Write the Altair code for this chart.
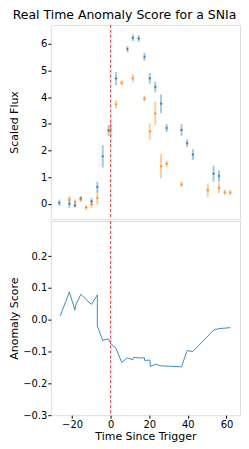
import altair as alt
import pandas as pd

blue_t = [-26.6, -21.4, -18.5, -15.5, -9.9, -6.9, -4.1, -1.1, 2.8, 8.7, 11.5, 14.5, 17.5, 20.3, 23.1, 26.1, 29.0, 36.7, 39.6, 42.6, 53.3, 56.1]
blue_v = [0.04, 0.0, -0.06, 0.2, 0.1, 0.63, 1.78, 2.75, 4.7, 5.8, 6.22, 6.2, 5.51, 4.71, 4.38, 3.75, 2.84, 2.77, 2.27, 1.85, 1.13, 1.04]
blue_e = [0.12, 0.15, 0.08, 0.08, 0.12, 0.2, 0.42, 0.2, 0.25, 0.12, 0.12, 0.12, 0.15, 0.2, 0.2, 0.35, 0.15, 0.22, 0.15, 0.2, 0.3, 0.22]

orange_t = [-21.4, -18.4, -15.5, -12.7, -9.9, -6.9, 0.0, 2.8, 5.7, 11.5, 17.5, 20.3, 23.1, 26.1, 29.0, 36.7, 50.3, 56.1, 59.1, 62.0]
orange_v = [0.17, 0.07, 0.17, -0.14, -0.03, 0.22, 2.8, 3.73, 4.54, 4.71, 3.94, 2.71, 3.39, 1.41, 1.5, 0.73, 0.51, 0.6, 0.43, 0.42]
orange_e = [0.12, 0.1, 0.1, 0.1, 0.12, 0.25, 0.3, 0.15, 0.1, 0.15, 0.12, 0.3, 0.45, 0.45, 0.12, 0.1, 0.25, 0.2, 0.1, 0.1]

score_t = [-26.1, -21.4, -18.5, -18.2, -15.4, -12.7, -9.9, -6.9, -6.9, -4.1, -1.1, 0.0, 2.8, 5.7, 8.7, 11.5, 12.0, 14.5, 17.5, 17.6, 20.3, 20.6, 23.1, 26.1, 36.7, 39.6, 42.6, 53.3, 56.1, 62.0]
score_v = [0.012, 0.087, 0.03, 0.045, 0.08, 0.063, 0.048, 0.078, -0.02, -0.065, -0.06, -0.075, -0.09, -0.134, -0.12, -0.126, -0.118, -0.12, -0.12, -0.128, -0.127, -0.147, -0.14, -0.145, -0.148, -0.097, -0.1, -0.033, -0.028, -0.025]

x_ticks = [-20, 0, 20, 40, 60]
flux_ticks = [0, 1, 2, 3, 4, 5, 6]
score_ticks = [-0.3, -0.2, -0.1, 0.0, 0.1, 0.2]

BLUE = "#1f77b4"
ORANGE = "#ff7f0e"
FONT = "DejaVu Sans"

rows = []
for t, v, e in zip(blue_t, blue_v, blue_e):
    rows.append({"t": t, "v": v, "lo": v - e, "hi": v + e, "band": "b"})
for t, v, e in zip(orange_t, orange_v, orange_e):
    rows.append({"t": t, "v": v, "lo": v - e, "hi": v + e, "band": "o"})
flux = pd.DataFrame(rows)
score = pd.DataFrame({"t": score_t, "v": score_v, "i": list(range(len(score_t)))})
zero = pd.DataFrame({"t": [0.0]})

xdom = [-31, 67]
W = 190

xs_top = alt.X("t:Q", scale=alt.Scale(domain=xdom, nice=False, zero=False), axis=None)
color = alt.Color("band:N", scale=alt.Scale(domain=["b", "o"], range=[BLUE, ORANGE]), legend=None)

yaxis_common = dict(labelFont=FONT, titleFont=FONT, labelFontSize=10, titleFontSize=11,
                    titleFontWeight="normal", labelColor="black", titleColor="black",
                    grid=False, domain=False, tickColor="black", tickSize=3,
                    minExtent=29, maxExtent=29, titlePadding=2, labelPadding=1)

yscale_top = alt.Scale(domain=[-0.57, 6.71], nice=False, zero=False)
yaxis_top = alt.Axis(title="Scaled Flux", values=flux_ticks, format="d", **yaxis_common)

bars = alt.Chart(flux).mark_rule(strokeWidth=2, opacity=0.4).encode(
    x=xs_top, y=alt.Y("lo:Q", scale=yscale_top, axis=yaxis_top),
    y2="hi:Q", color=color)
pts = alt.Chart(flux).mark_point(shape="cross", size=6, filled=True, opacity=0.9).encode(
    x=xs_top, y=alt.Y("v:Q", scale=yscale_top, axis=yaxis_top), color=color)
vline_top = alt.Chart(zero).mark_rule(color="#e03030", strokeDash=[3, 2], strokeWidth=1).encode(x=xs_top)

top = alt.layer(bars, pts, vline_top).properties(width=W, height=195)

xs_bot = alt.X("t:Q", scale=alt.Scale(domain=xdom, nice=False, zero=False),
               axis=alt.Axis(title="Time Since Trigger", values=x_ticks, format="d",
                             labelFont=FONT, titleFont=FONT, labelFontSize=10, titleFontSize=11,
                             titleFontWeight="normal", labelColor="black", titleColor="black",
                             grid=False, domain=False, tickColor="black", tickSize=3,
                             titlePadding=1, labelPadding=1))
ys_bot = alt.Y("v:Q", scale=alt.Scale(domain=[-0.3, 0.31], nice=False, zero=False),
               axis=alt.Axis(title="Anomaly Score", values=score_ticks, format=".1f", **yaxis_common))

line = alt.Chart(score).mark_line(color=BLUE, strokeWidth=1, opacity=0.85).encode(
    x=xs_bot, y=ys_bot, order="i:Q")
vline_bot = alt.Chart(zero).mark_rule(color="#e03030", strokeDash=[3, 2], strokeWidth=1).encode(x=xs_bot)

bottom = alt.layer(line, vline_bot).properties(width=W, height=195)

chart = alt.vconcat(top, bottom, spacing=0).properties(
    title=alt.TitleParams("Real Time Anomaly Score for a SNIa", font=FONT, fontSize=12.5,
                          fontWeight="normal", color="black", offset=2, anchor="middle")
).configure_view(stroke="#999999", strokeWidth=1).configure(padding=0)

chart.save("out.html", embed_options={"renderer": "svg", "actions": False})
